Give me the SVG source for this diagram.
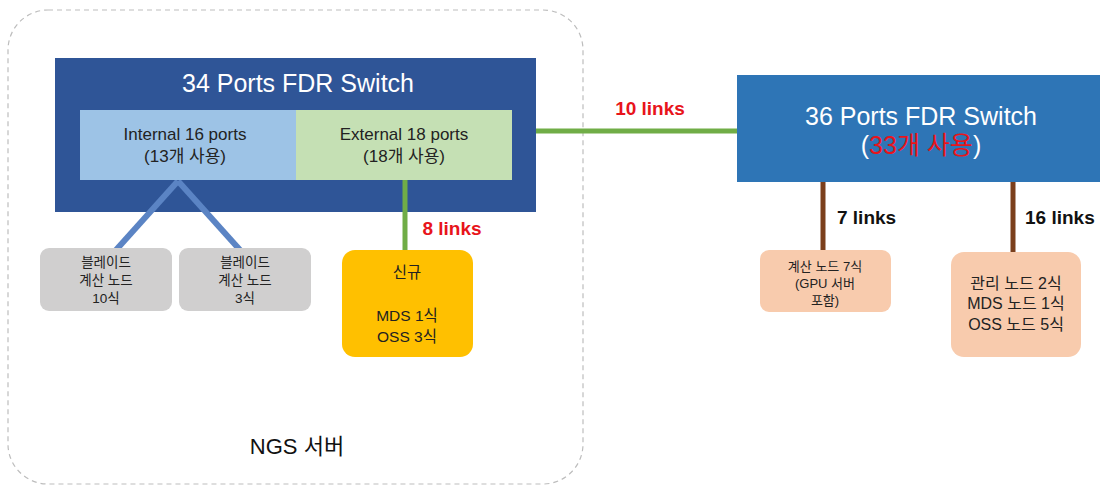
<svg xmlns="http://www.w3.org/2000/svg" width="1100" height="486" viewBox="0 0 1100 486">
<style>
text{font-family:"Liberation Sans","Noto Sans CJK KR",sans-serif;text-anchor:middle}
.t{fill:#fff;font-size:25px}
.s{fill:#222;font-size:17px}
.n{fill:#222;font-size:13.5px}
.lr{fill:#e8141b;font-size:19px;font-weight:bold}
.lb{fill:#111;font-size:19px;font-weight:bold;text-anchor:start}
</style>
<rect width="1100" height="486" fill="#fff"/>
<g id="ngs-container">
<rect x="8" y="10" width="575" height="474" rx="40" fill="none" stroke="#bdbdbd" stroke-width="1.2" stroke-dasharray="5,4"/>
<text x="297" y="454" style="font-size:22px;fill:#111">NGS 서버</text>
</g>
<g id="switch34">
<rect x="55" y="58" width="481" height="154" fill="#2f5597"/>
<text x="298" y="92" class="t">34 Ports FDR Switch</text>
</g>
<g id="connectors">
<line x1="178" y1="181" x2="116" y2="250" stroke="#5b84c4" stroke-width="6"/>
<line x1="178" y1="181" x2="240" y2="250" stroke="#5b84c4" stroke-width="6"/>
<line x1="405" y1="180" x2="405" y2="251" stroke="#70ad47" stroke-width="5"/>
<line x1="536" y1="131" x2="738" y2="131" stroke="#70ad47" stroke-width="5"/>
<line x1="823" y1="182" x2="823" y2="251" stroke="#7b3f1c" stroke-width="5"/>
<line x1="1013" y1="182" x2="1013" y2="253" stroke="#7b3f1c" stroke-width="5"/>
<text x="452" y="235" class="lr">8 links</text>
<text x="650" y="115" class="lr">10 links</text>
<text x="837" y="224" class="lb">7 links</text>
<text x="1025" y="224" class="lb">16 links</text>
</g>
<g id="internal-ports">
<rect x="80" y="110" width="216" height="70" fill="#9dc3e6"/>
<text x="185" y="140" class="s">Internal 16 ports</text>
<text x="185" y="162" class="s">(13개 사용)</text>
</g>
<g id="external-ports">
<rect x="296" y="110" width="216" height="70" fill="#c5e0b4"/>
<text x="404" y="140" class="s">External 18 ports</text>
<text x="404" y="162" class="s">(18개 사용)</text>
</g>
<g id="blade1">
<rect x="40" y="248" width="132" height="63" rx="9" fill="#d0cfcf"/>
<text x="106" y="267" class="n">블레이드</text>
<text x="106" y="285" class="n">계산 노드</text>
<text x="106" y="303" class="n">10식</text>
</g>
<g id="blade2">
<rect x="179" y="248" width="132" height="63" rx="9" fill="#d0cfcf"/>
<text x="245" y="267" class="n">블레이드</text>
<text x="245" y="285" class="n">계산 노드</text>
<text x="245" y="303" class="n">3식</text>
</g>
<g id="new-storage">
<rect x="342" y="250" width="131" height="107" rx="13" fill="#ffc000"/>
<text x="407" y="278" class="s" style="font-size:15.5px">신규</text>
<text x="407" y="321" class="s" style="font-size:15.5px">MDS 1식</text>
<text x="407" y="342" class="s" style="font-size:15.5px">OSS 3식</text>
</g>
<g id="switch36">
<rect x="737" y="75" width="363" height="107" fill="#2e75b6"/>
<text x="921" y="125" class="t">36 Ports FDR Switch</text>
<text x="921" y="154" class="t">(<tspan fill="#e8141b">33개 사용</tspan>)</text>
</g>
<g id="compute-nodes">
<rect x="760" y="250" width="131" height="62" rx="9" fill="#f8cbad"/>
<text x="825" y="271" class="n" style="font-size:13px">계산 노드 7식</text>
<text x="825" y="288" class="n" style="font-size:13px">(GPU 서버</text>
<text x="825" y="305" class="n" style="font-size:13px">포함)</text>
</g>
<g id="mgmt-nodes">
<rect x="951" y="252" width="130" height="105" rx="13" fill="#f8cbad"/>
<text x="1016" y="289" class="s" style="font-size:16px">관리 노드 2식</text>
<text x="1016" y="309" class="s" style="font-size:16px">MDS 노드 1식</text>
<text x="1016" y="330" class="s" style="font-size:16px">OSS 노드 5식</text>
</g>
</svg>
